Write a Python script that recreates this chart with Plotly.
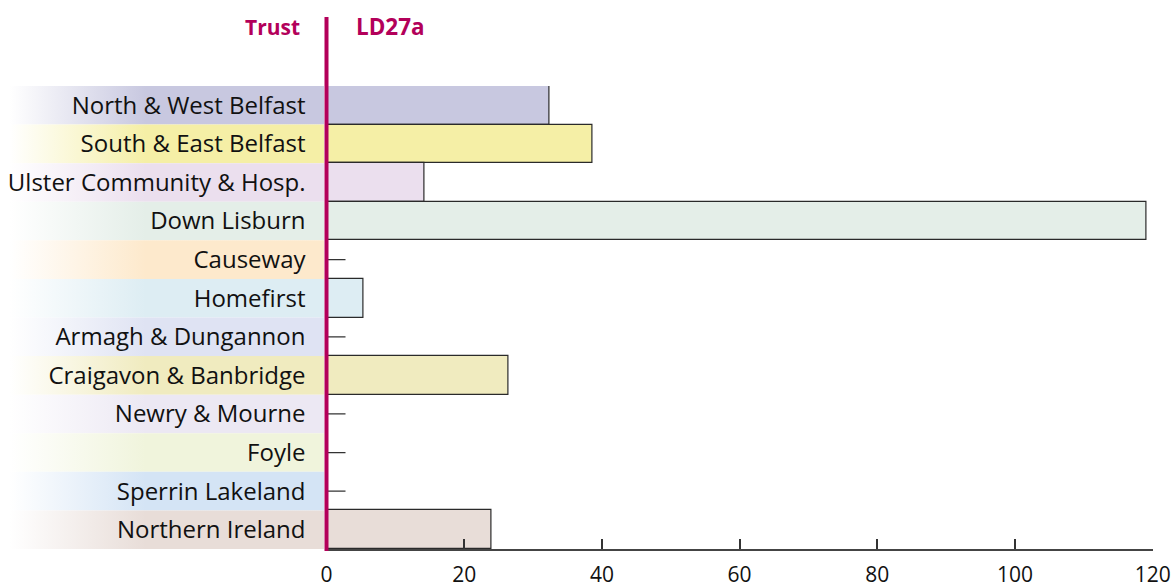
import plotly.graph_objects as go

trusts = ["North & West Belfast", "South & East Belfast", "Ulster Community & Hosp.",
          "Down Lisburn", "Causeway", "Homefirst", "Armagh & Dungannon",
          "Craigavon & Banbridge", "Newry & Mourne", "Foyle", "Sperrin Lakeland",
          "Northern Ireland"]
ld27a = [32.4, 38.7, 14.2, 119.1, 0, 5.4, 0, 26.4, 0, 0, 0, 23.9]
row_colors = ["#c8c8e0", "#f5efa6", "#ebdfee", "#e4eee8", "#fde9cc", "#ddedf3",
              "#dfe3f3", "#f0ebbf", "#ece8f3", "#f0f4dc", "#d4e4f5", "#e8ddd8"]
x_ticks = [0, 20, 40, 60, 80, 100, 120]

MAGENTA = "#b3005a"
FONT = "Open Sans"

W, H = 1176, 588
plot_left, plot_right = 326.5, 1152.7
plot_top, plot_bottom = 86, 549

fig = go.Figure()

idx = list(range(len(trusts)))

# gradient label backgrounds (on x axis 'x')
for i, c in zip(idx, row_colors):
    fig.add_trace(go.Scatter(
        x=[0, 1, 1, 0, 0], y=[i - 0.5, i - 0.5, i + 0.5, i + 0.5, i - 0.5],
        mode="lines", line=dict(width=0), fill="toself",
        fillgradient=dict(type="horizontal",
                          colorscale=[[0, "rgba(255,255,255,1)"], [0.03, "rgba(255,255,255,1)"],
                                      [0.45, c], [1, c]]),
        hoverinfo="skip", showlegend=False, xaxis="x", yaxis="y"))

# bars
fig.add_trace(go.Bar(
    x=ld27a, y=idx, orientation="h", width=1,
    marker=dict(color=row_colors, line=dict(color="#2a2a2a", width=1.2)),
    showlegend=False, xaxis="x2", yaxis="y"))

shapes = []
# zero-value dashes
for i, v in zip(idx, ld27a):
    if v == 0:
        shapes.append(dict(type="line", xref="x2", yref="y", xsizemode="pixel",
                           xanchor=0, x0=0, x1=19, y0=i, y1=i,
                           line=dict(color="#333333", width=1.2)))
# magenta vertical rule
shapes.append(dict(type="line", xref="paper", yref="paper", x0=plot_left / W, x1=plot_left / W,
                   y0=(H - 551) / H, y1=(H - 17) / H,
                   line=dict(color=MAGENTA, width=4)))

fig.update_layout(
    width=W, height=H, margin=dict(l=0, r=0, t=0, b=0, autoexpand=False),
    paper_bgcolor="white", plot_bgcolor="rgba(0,0,0,0)",
    font=dict(family=FONT, size=20, color="#111111"),
    bargap=0,
    xaxis=dict(domain=[0, 324 / W], range=[0, 1], visible=False, fixedrange=True,
               automargin=False),
    xaxis2=dict(domain=[plot_left / W, plot_right / W], range=[0, 120], anchor="y",
                tickvals=x_ticks, ticks="inside", ticklen=10, tickwidth=1.5,
                tickcolor="#333333", showline=True, linecolor="#444444", linewidth=1.5,
                showgrid=False, zeroline=False, ticklabelstandoff=6, automargin=False,
                tickfont=dict(family=FONT, size=21, color="#111111")),
    yaxis=dict(domain=[(H - plot_bottom) / H, (H - plot_top) / H],
               range=[len(trusts) - 0.5, -0.5], anchor="x2", automargin=False,
               tickvals=idx, ticktext=trusts, ticks="", showgrid=False,
               zeroline=False, showline=False, ticklabelstandoff=20,
               tickfont=dict(family=FONT, size=24, color="#111111")),
    shapes=shapes,
    annotations=[
        dict(text="<b>Trust</b>", xref="paper", yref="paper", x=302 / W, y=(H - 27) / H,
             xanchor="right", yanchor="middle", showarrow=False,
             font=dict(family=FONT, size=21, color=MAGENTA)),
        dict(text="<b>LD27a</b>", xref="paper", yref="paper", x=354 / W, y=(H - 27) / H,
             xanchor="left", yanchor="middle", showarrow=False,
             font=dict(family=FONT, size=22.5, color=MAGENTA)),
    ],
)

post = ("document.body.style.margin='0';document.body.style.overflow='hidden';"
        "var gd=document.getElementById('{plot_id}');"
        "Plotly.relayout(gd,{width:%d,height:%d});" % (W, H))

fig.write_html("out.html", post_script=post, config={"displayModeBar": False})
